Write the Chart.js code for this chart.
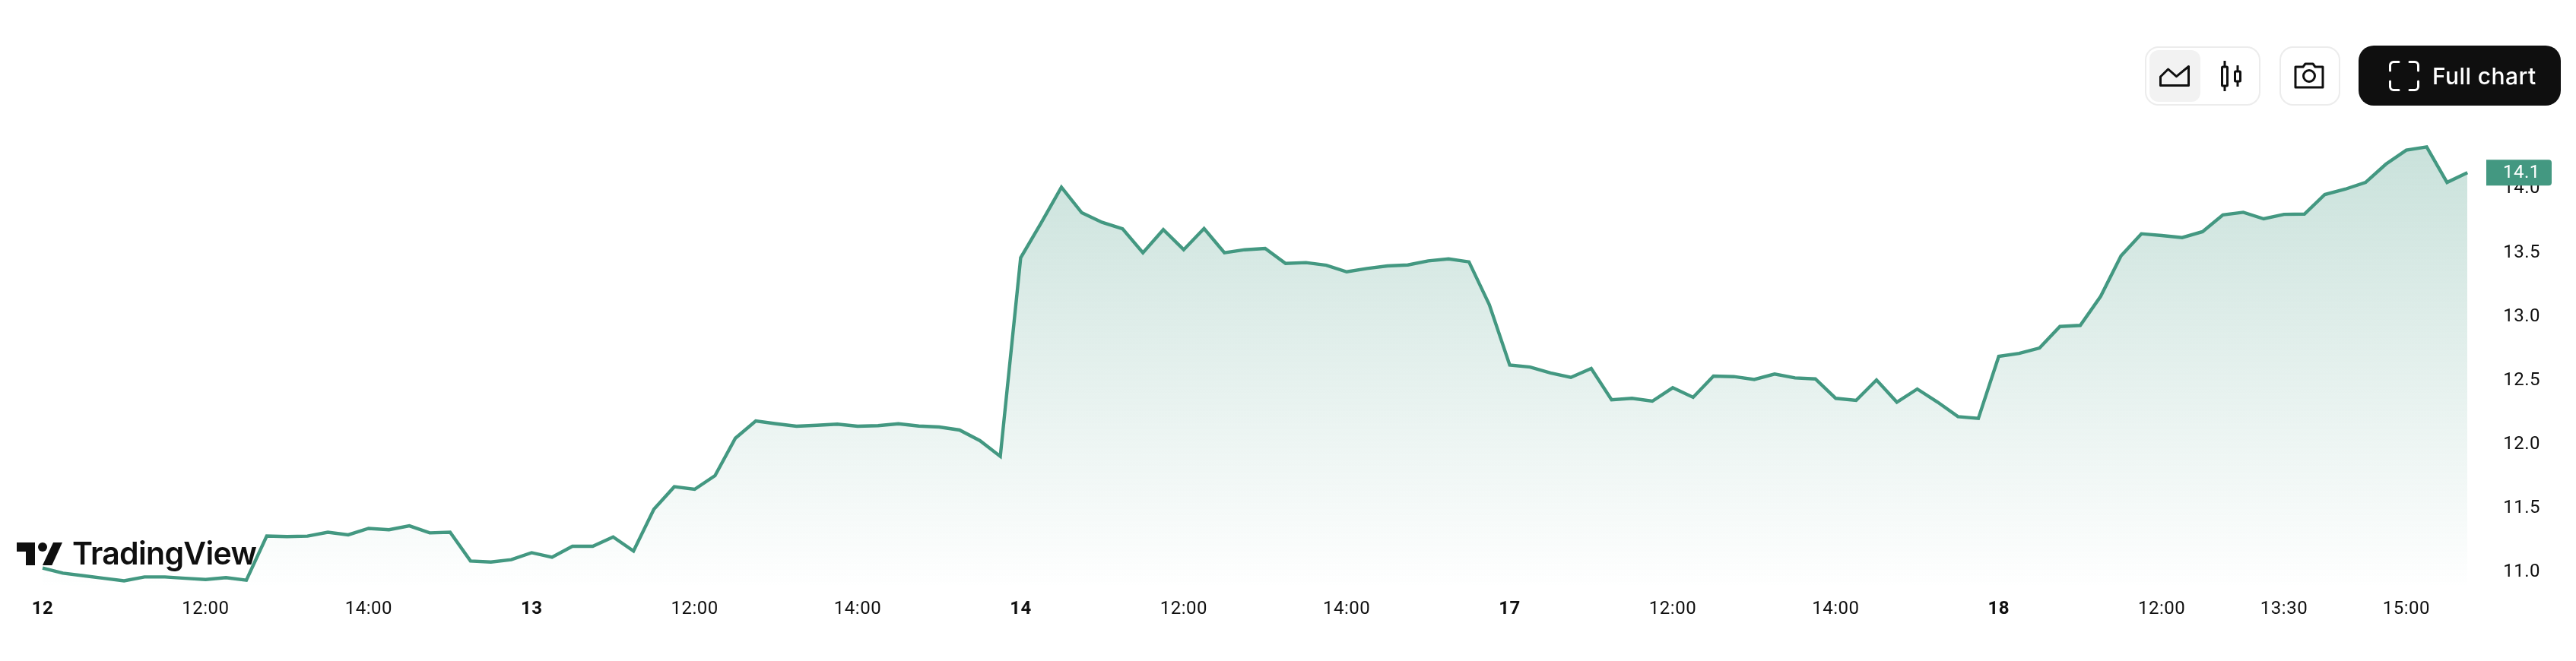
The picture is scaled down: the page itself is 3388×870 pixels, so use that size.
<!DOCTYPE html>
<html lang="en">
<head>
<meta charset="UTF-8">
<title>Price chart</title>
<script src="https://cdn.jsdelivr.net/npm/chart.js"></script>
<style>
    body { margin: 0; background: #fff; font-family: Inter, sans-serif; }
    #wrap { position: relative; width: 3388px; height: 870px; overflow: hidden; }
    #chart { position: absolute; left: 0; top: 0; }
    .box { position: absolute; box-sizing: border-box; top: 61px; height: 78px; border: 2px solid #ececec; border-radius: 18px; background: #fff; }
    .active { position: absolute; left: 2827px; top: 66px; width: 67px; height: 68px; border-radius: 12px; background: #f2f2f2; }
    .icon { position: absolute; }
    #full { position: absolute; left: 3102px; top: 60px; width: 266px; height: 79px; border-radius: 20px; background: #0f0f0f; }
    #full span { position: absolute; left: 97px; top: 0; line-height: 81px; color: #fff; font-size: 30px; font-weight: 500; letter-spacing: 0.4px; white-space: nowrap; }
    #logo { position: absolute; left: 22px; top: 714px; }
    #logoText { position: absolute; left: 95px; top: 703px; font-size: 41px; font-weight: 600; line-height: 50px; color: #0f0f0f; letter-spacing: -0.7px; white-space: nowrap; }
</style>
</head>
<body>
<div id="wrap">
    <canvas id="chart" width="3388" height="870"></canvas>

    <div class="box" style="left:2821px;width:152px"></div>
    <div class="active"></div>
    <svg class="icon" style="left:2840px;top:86px" width="40" height="28" viewBox="0 0 40 28" fill="none" stroke="#0f0f0f" stroke-width="3" stroke-linejoin="round">
        <path d="M1.500 26.500V15L11.600 5l10.900 9.700L38.500 1.500v25z"/>
    </svg>
    <svg class="icon" style="left:2921px;top:79px" width="28" height="42" viewBox="0 0 28 42" fill="none" stroke="#0f0f0f" stroke-width="3">
        <rect x="1.500" y="9" width="7" height="25" rx="1"/><path d="M5 1v8M5 34v7"/>
        <rect x="18.500" y="15" width="7" height="13" rx="1"/><path d="M22 7v8M22 28v7"/>
    </svg>
    <div class="box" style="left:2998px;width:80px"></div>
    <svg class="icon" style="left:3016px;top:81px" width="42" height="36" viewBox="0 0 42 36" fill="none" stroke="#0f0f0f" stroke-width="3" stroke-linejoin="round">
        <path d="M3 7h10l3-4h10l3 4h10v27H3z"/><circle cx="21" cy="19" r="7.500"/>
    </svg>
    <div id="full">
        <svg class="icon" style="left:40px;top:20px" width="40" height="40" viewBox="0 0 40 40" fill="none" stroke="#fff" stroke-width="3" stroke-linecap="round">
            <path d="M13 1.500H6a4.500 4.500 0 0 0-4.500 4.500v7M27 1.500h7a4.500 4.500 0 0 1 4.500 4.500v7M1.500 27v7a4.500 4.500 0 0 0 4.500 4.500h7M38.500 27v7a4.500 4.500 0 0 1-4.500 4.500h-7"/>
        </svg>
        <span>Full chart</span>
    </div>

    <svg id="logo" width="60" height="30" viewBox="0 0 60 30" fill="#0f0f0f">
        <path d="M0 0h24v30H12V12H0z"/><circle cx="34" cy="6" r="6"/><path d="M48 0h12L46.300 30H34z"/>
    </svg>
    <div id="logoText">TradingView</div>
</div>

<script>
    // 15 minute bars
    const prices = [
        11.02, 10.98, 10.96, 10.94, 10.92, 10.95, 10.95, 10.94, 10.93, 10.945,
        10.925, 11.27, 11.266, 11.27, 11.30, 11.28, 11.33, 11.32, 11.35, 11.295,
        11.30, 11.075, 11.067, 11.085, 11.14, 11.105, 11.19, 11.19, 11.263, 11.153,
        11.48, 11.656, 11.636, 11.743, 12.036, 12.171, 12.149, 12.13, 12.137, 12.146,
        12.13, 12.134, 12.149, 12.131, 12.124, 12.10, 12.017, 11.894, 13.448, 13.72,
        14.0, 13.80, 13.725, 13.675, 13.487, 13.668, 13.511, 13.677, 13.487, 13.511,
        13.521, 13.404, 13.41, 13.39, 13.338, 13.364, 13.384, 13.392, 13.424, 13.439,
        13.416, 13.081, 12.609, 12.593, 12.546, 12.512, 12.581, 12.336, 12.348, 12.326,
        12.431, 12.356, 12.522, 12.518, 12.496, 12.538, 12.508, 12.5, 12.348, 12.332,
        12.492, 12.318, 12.421, 12.318, 12.205, 12.191, 12.677, 12.70, 12.742, 12.91,
        12.919, 13.146, 13.463, 13.636, 13.622, 13.606, 13.652, 13.784, 13.804, 13.753,
        13.788, 13.79, 13.943, 13.985, 14.038, 14.181, 14.29, 14.316, 14.038, 14.114
    ];
    const categories = prices.map((p, i) => i);

    const tickIndexes = [0, 8, 16, 24, 32, 40, 48, 56, 64, 72, 80, 88, 96, 104, 110, 116];
    const tickLabels = ['12', '12:00', '14:00', '13', '12:00', '14:00', '14', '12:00', '14:00', '17', '12:00', '14:00', '18', '12:00', '13:30', '15:00'];
    const boldLabels = ['12', '13', '14', '17', '18'];
    const yTicks = [11, 11.5, 12, 12.5, 13, 13.5, 14];

    const lineColor = '#439881';
    const textColor = '#0f0f0f';

    // last price tag on the right axis
    const priceTag = {
        id: 'priceTag',
        beforeDraw(chart) {
            chart.ctx.letterSpacing = '0.5px';
        },
        afterDraw(chart) {
            const y = chart.scales.y.getPixelForValue(prices[prices.length - 1]);
            const c = chart.ctx;
            c.save();
            c.fillStyle = lineColor;
            c.beginPath();
            c.roundRect(3270, y - 17, 86, 34, [0, 4, 4, 0]);
            c.fill();
            c.fillStyle = '#fff';
            c.font = '24px Roboto';
            c.textAlign = 'left';
            c.textBaseline = 'middle';
            c.fillText(prices[prices.length - 1].toFixed(1), 3292, y + 1);
            c.restore();
        }
    };

    new Chart(document.getElementById('chart'), {
        type: 'line',
        data: {
            labels: categories,
            datasets: [{
                data: prices,
                borderColor: lineColor,
                borderWidth: 4.4,
                borderJoinStyle: 'miter',
                pointRadius: 0,
                tension: 0,
                fill: 'start',
                backgroundColor(ctx) {
                    const area = ctx.chart.chartArea;
                    if (!area) return 'rgba(67,152,129,0.15)';
                    const g = ctx.chart.ctx.createLinearGradient(0, area.top, 0, area.bottom);
                    g.addColorStop(0, 'rgba(67,152,129,0.30)');
                    g.addColorStop(1, 'rgba(67,152,129,0.005)');
                    return g;
                }
            }]
        },
        options: {
            responsive: false,
            animation: false,
            layout: { padding: { left: 56, right: 0, top: 160, bottom: 0 } },
            plugins: { legend: { display: false }, tooltip: { enabled: false } },
            scales: {
                x: {
                    type: 'category',
                    grid: { display: false, drawTicks: false },
                    border: { display: false },
                    afterBuildTicks(scale) { scale.ticks = tickIndexes.map(v => ({ value: v })); },
                    afterFit(scale) { scale.height = 100; },
                    ticks: {
                        autoSkip: false,
                        maxRotation: 0,
                        padding: 18,
                        color: textColor,
                        callback: v => tickLabels[tickIndexes.indexOf(v)],
                        font: ctx => ({
                            family: 'Roboto',
                            size: 24,
                            weight: boldLabels.includes(ctx.tick && ctx.tick.label) ? '700' : '400'
                        })
                    }
                },
                y: {
                    position: 'right',
                    min: 10.887,
                    max: 14.514,
                    grid: { display: false, drawTicks: false },
                    border: { display: false },
                    afterBuildTicks(scale) { scale.ticks = yTicks.map(v => ({ value: v })); },
                    afterFit(scale) { scale.width = 142.8; },
                    ticks: {
                        padding: 47,
                        labelOffset: 2,
                        color: textColor,
                        font: { family: 'Roboto', size: 24 },
                        callback: v => v.toFixed(1)
                    }
                }
            }
        },
        plugins: [priceTag]
    });
</script>
</body>
</html>
